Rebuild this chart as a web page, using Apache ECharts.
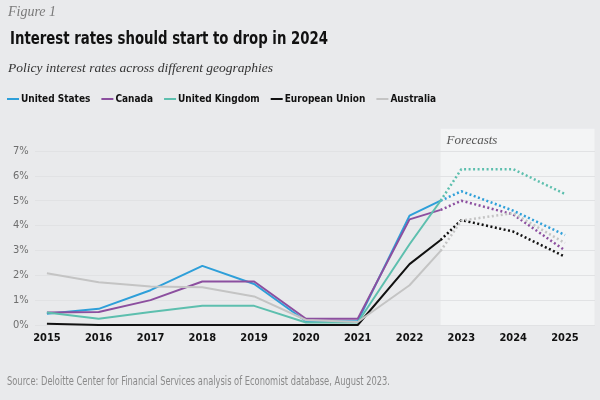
<!DOCTYPE html>
<html>
<head>
<meta charset="utf-8">
<script src="https://cdn.jsdelivr.net/npm/echarts@6/dist/echarts.min.js"></script>
<style>
  html, body { margin: 0; padding: 0; background: #e9eaec; }
  #chart { width: 600px; height: 400px; }
</style>
</head>
<body>
<div id="chart"></div>
<script>
// tick labels
const years = [2015, 2016, 2017, 2018, 2019, 2020, 2021, 2022, 2023, 2024, 2025];

// actual values (last point is where the forecast takes over)
const histX = [2015, 2016, 2017, 2018, 2019, 2020, 2021, 2022, 2022.6];
const usHist = [0.45, 0.65, 1.4, 2.38, 1.65, 0.15, 0.15, 4.4, 5.0];
const caHist = [0.5, 0.52, 1.0, 1.75, 1.75, 0.25, 0.25, 4.25, 4.63];
const ukHist = [0.5, 0.25, 0.52, 0.77, 0.77, 0.1, 0.1, 3.25, 5.0];
const euHist = [0.05, 0, 0, 0, 0, 0, 0, 2.45, 3.42];
const auHist = [2.08, 1.72, 1.55, 1.52, 1.15, 0.2, 0.12, 1.6, 2.98];

// forecasts
const foreX = [2022.6, 2023, 2024, 2025];
const usFore = [5.0, 5.38, 4.6, 3.62];
const caFore = [4.63, 5.0, 4.45, 3.0];
const ukFore = [5.0, 6.27, 6.27, 5.27];
const euFore = [3.42, 4.22, 3.76, 2.75];
const auFore = [2.98, 4.2, 4.5, 3.3];

// forecast panel extent (in axis units)
const forecastStart = 2022.6;
const forecastEnd = 2025.57;
const forecastTop = 7.9;

const narrow = "'DejaVu Sans Condensed', 'Liberation Sans', sans-serif";
const serif = "'Liberation Serif', 'DejaVu Serif', serif";

const countries = [
  { name: "United States", color: "#2e9fd9", hist: usHist, fore: usFore },
  { name: "Canada", color: "#8c4f9f", hist: caHist, fore: caFore },
  { name: "United Kingdom", color: "#5dbfae", hist: ukHist, fore: ukFore },
  { name: "European Union", color: "#111111", hist: euHist, fore: euFore },
  { name: "Australia", color: "#c4c4c4", hist: auHist, fore: auFore },
];

const pairs = (xs, ys) => xs.map((x, i) => [x, ys[i]]);

const series = [];
countries.forEach((c) => {
  series.push({
    name: c.name,
    type: "line",
    data: pairs(histX, c.hist),
    symbol: "none",
    lineStyle: { width: 2, color: c.color },
    itemStyle: { color: c.color },
    z: 3,
  });
});
countries.forEach((c) => {
  series.push({
    name: c.name,
    type: "line",
    data: pairs(foreX, c.fore),
    symbol: "none",
    lineStyle: { width: 2.5, color: c.color, type: [2, 2.5] },
    itemStyle: { color: c.color },
    z: 3,
  });
});

const chart = echarts.init(document.getElementById("chart"));

chart.setOption({
  backgroundColor: "#e9eaec",
  animation: false,
  legend: {
    data: countries.map((c) => c.name),
    left: 2,
    top: 89,
    icon: "rect",
    itemWidth: 12,
    itemHeight: 2,
    itemGap: 11,
    textStyle: { fontFamily: narrow, fontWeight: "bold", fontSize: 10, color: "#111", padding: [0, 0, 0, -3] },
  },
  grid: { left: 35, right: 5, top: 151, bottom: 75 },
  xAxis: {
    type: "value",
    min: 2014.77,
    max: 2025.58,
    axisLine: { show: false },
    axisTick: { show: false },
    splitLine: { show: false },
    axisLabel: {
      customValues: years,
      formatter: (v) => String(v),
      fontFamily: narrow,
      fontWeight: "bold",
      fontSize: 11,
      color: "#111",
      margin: 8,
    },
  },
  yAxis: {
    type: "value",
    min: 0,
    max: 7,
    interval: 1,
    axisLine: { show: false },
    axisTick: { show: false },
    axisLabel: {
      formatter: "{value}%",
      fontFamily: narrow,
      fontSize: 11,
      color: "#6e6e6e",
      align: "left",
      margin: 22,
    },
    splitLine: { lineStyle: { color: "#e1e2e4", width: 1 } },
  },
  series: series,
});

// forecast panel, positioned through the axes; heading texts
const p0 = chart.convertToPixel({ gridIndex: 0 }, [forecastStart, forecastTop]);
const p1 = chart.convertToPixel({ gridIndex: 0 }, [forecastEnd, 0]);
chart.setOption({
  graphic: [
    {
      type: "rect",
      z: -1,
      shape: { x: p0[0], y: p0[1], width: p1[0] - p0[0], height: p1[1] - p0[1] },
      style: { fill: "#f3f4f5" },
    },
    {
      type: "text",
      x: p0[0] + 6,
      y: p0[1] + 5,
      style: { text: "Forecasts", font: "italic 13px " + serif, fill: "#555" },
    },
    {
      type: "text",
      x: 8,
      y: 12,
      style: { text: "Figure 1", font: "italic 14px " + serif, fill: "#7a7a7a", verticalAlign: "middle" },
    },
    {
      type: "text",
      x: 10,
      y: 39,
      scaleX: 0.82,
      style: { text: "Interest rates should start to drop in 2024", font: "bold 18px " + narrow, fill: "#111", verticalAlign: "middle" },
    },
    {
      type: "text",
      x: 8,
      y: 68,
      style: { text: "Policy interest rates across different geographies", font: "italic 13.5px " + serif, fill: "#333", verticalAlign: "middle" },
    },
    {
      type: "text",
      x: 7,
      y: 382,
      scaleX: 0.77,
      style: { text: "Source: Deloitte Center for Financial Services analysis of Economist database, August 2023.", font: "12px " + narrow, fill: "#8a8a8a", verticalAlign: "middle" },
    },
  ],
});
</script>
</body>
</html>
